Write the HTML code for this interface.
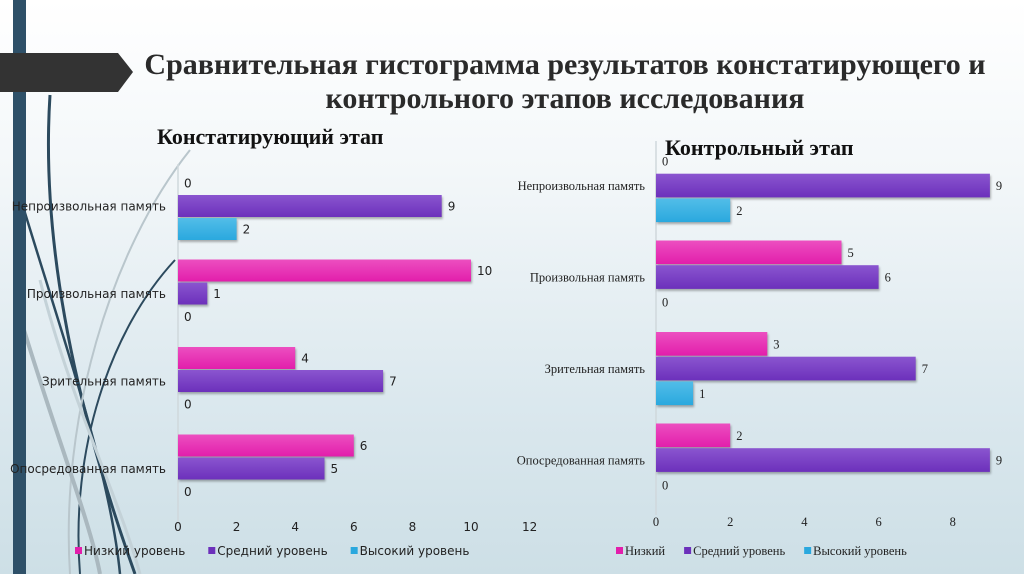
<!DOCTYPE html>
<html><head><meta charset="utf-8">
<style>
html,body{margin:0;padding:0;}
body{width:1024px;height:574px;overflow:hidden;position:relative;background:linear-gradient(#ffffff 0%,#f3f7f9 30%,#dbe8ee 70%,#cddfe6 100%);font-family:"Liberation Sans","DejaVu Sans",sans-serif;}
.abs{position:absolute;}
.title{left:120px;width:890px;top:48px;text-align:center;font-family:"Liberation Serif",serif;font-weight:bold;font-size:30px;line-height:34px;color:#2a2a2a;}
.sub{font-family:"Liberation Serif",serif;font-weight:bold;font-size:22px;color:#111;}
</style></head><body>
<svg class="abs" style="left:0;top:0" width="1024" height="574">
<path d="M50 95 C40 250 80 420 135 574" stroke="#2c4a5e" stroke-width="3" fill="none"/>
<path d="M15 180 C60 330 110 470 120 574" stroke="#2c4a5e" stroke-width="2.5" fill="none"/>
<path d="M175 260 C110 330 70 450 80 574" stroke="#2c4a5e" stroke-width="2" fill="none"/>
<path d="M190 150 C110 250 60 420 70 574" stroke="#b9c6cc" stroke-width="2" fill="none"/>
<path d="M15 300 C50 420 90 520 100 574" stroke="#aab8bf" stroke-width="4" fill="none"/>
<path d="M40 280 C70 400 120 500 140 574" stroke="#c4d2d8" stroke-width="3" fill="none"/>
<rect x="13" y="0" width="13" height="574" fill="#2e5068"/>
<polygon points="0,53 118,53 133,72 118,92 0,92" fill="#333"/>
</svg>
<div class="abs title">Сравнительная гистограмма результатов констатирующего и<br>контрольного этапов исследования</div>
<div class="abs sub" style="left:157px;top:124px">Констатирующий этап</div>
<div class="abs sub" style="left:665px;top:135px">Контрольный этап</div>
<svg id="c" class="abs" style="left:0;top:0" width="1024" height="574"></svg>
<script>
const cats1=["Непроизвольная память","Произвольная память","Зрительная память","Опосредованная память"];
const low1=[0,10,4,6];
const mid1=[9,1,7,5];
const high1=[2,0,0,0];
const ticks1=[0,2,4,6,8,10,12];
const legend1=["Низкий уровень","Средний уровень","Высокий уровень"];
const cats2=["Непроизвольная память","Произвольная память","Зрительная память","Опосредованная память"];
const low2=[0,5,3,2];
const mid2=[9,6,7,9];
const high2=[2,0,1,0];
const ticks2=[0,2,4,6,8];
const legend2=["Низкий","Средний уровень","Высокий уровень"];
const colors=[["#ec4fc0","#e21eab"],["#8a55cf","#6c30bb"],["#52bde8","#2aa8de"]];
const svg=document.getElementById('c');
const NS="http://www.w3.org/2000/svg";
function mk(t,a){const e=document.createElementNS(NS,t);for(const k in a)e.setAttribute(k,a[k]);svg.appendChild(e);return e;}
const defs=mk('defs',{});
colors.forEach((c,i)=>{const g=document.createElementNS(NS,'linearGradient');g.setAttribute('id','g'+i);g.setAttribute('x1','0');g.setAttribute('y1','0');g.setAttribute('x2','0');g.setAttribute('y2','1');
 g.innerHTML='<stop offset="0" stop-color="'+c[0]+'"/><stop offset="1" stop-color="'+c[1]+'"/>';defs.appendChild(g);});
function chart(o){
 const sx=v=>o.x0+v*o.unit;
 const st='font-family:'+o.ff+';font-size:'+o.fs+'px';
 const ax=mk('line',{x1:o.x0,y1:o.top-8,x2:o.x0,y2:o.top+4*o.pitch,stroke:'#d0d8dc','stroke-width':1.5});
 
 
 const series=[o.low,o.mid,o.high];
 o.cats.forEach((c,i)=>{
  const gy=o.top+i*o.pitch;
  const t=mk('text',{x:o.labx,y:gy+o.bh*1.5+4,'text-anchor':'end',fill:'#222',style:st});
  t.textContent=c;
  
  
  series.forEach((s,j)=>{
   const v=s[i];const y=gy+j*o.bh;
   if(v>0){const r=mk('rect',{x:o.x0,y:y,width:sx(v)-o.x0,height:o.bh-1,fill:'url(#g'+j+')',style:'filter:drop-shadow(1px 2px 1px rgba(0,0,0,0.3))'});
    
    }
   const vl=mk('text',{x:v>0?sx(v)+6:o.x0+6,y:y+o.bh/2+4,fill:'#222',style:st});
   vl.textContent=v;
   
   
  });
 });
 o.ticks.forEach(t=>{const e=mk('text',{x:sx(t),y:o.ty,'text-anchor':'middle',fill:'#222',style:st});e.textContent=t;
  
  });
 let lx=o.lx;
 o.legend.forEach((l,j)=>{const r=mk('rect',{x:lx,y:o.ly-8,width:7,height:7,fill:colors[j][1]});
  
  
  const t=mk('text',{x:lx+9,y:o.ly,fill:'#222',style:st});t.textContent=l;
  
  
  lx+=t.getComputedTextLength()+o.gap;});
}
chart({p:'left',cats:cats1,low:low1,mid:mid1,high:high1,ticks:ticks1,legend:legend1,x0:178,unit:29.3,top:172,pitch:87.5,bh:23,labx:166,fs:12,ff:'"DejaVu Sans", sans-serif',ty:531,lx:75,ly:555,gap:32});
chart({p:'right',cats:cats2,low:low2,mid:mid2,high:high2,ticks:ticks2,legend:legend2,x0:656,unit:37.1,top:149,pitch:91.5,bh:24.7,labx:645,fs:12.5,ff:'"Liberation Serif", serif',ty:526,lx:616,ly:555,gap:28});
</script>
</body></html>
